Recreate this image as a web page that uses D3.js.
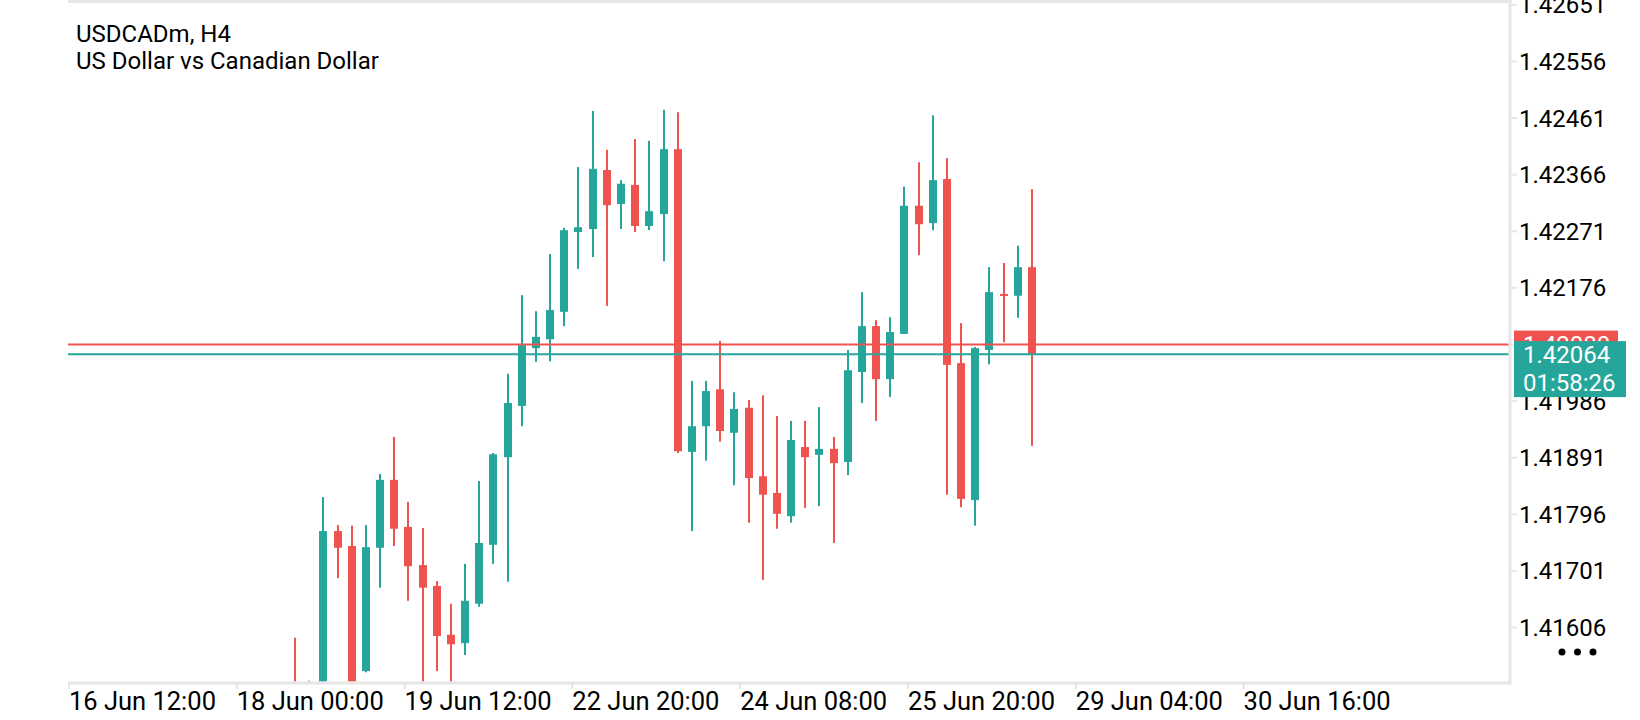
<!DOCTYPE html>
<html>
<head>
<meta charset="utf-8">
<title>USDCADm, H4</title>
<script src="https://cdn.jsdelivr.net/npm/d3@7"></script>
<style>
  body { margin: 0; background: #fff; }
  svg { display: block; font-family: Roboto, "Noto Sans", sans-serif; }
</style>
</head>
<body>
<div id="chart"></div>
<script>
// H4 candles, left to right (first few have bodies below the visible range)
var opens  = [1.41500,1.41440,1.41470,1.41767,1.41742,1.41532,1.41739,1.41853,1.41774,1.41710,
              1.41675,1.41593,1.41579,1.41645,1.41744,1.41891,1.41977,1.42074,1.42089,1.42135,
              1.42269,1.42274,1.42373,1.42316,1.42348,1.42279,1.42299,1.42408,1.41900,1.41943,
              1.42005,1.41932,1.41974,1.41859,1.41831,1.41792,1.41908,1.41895,1.41905,1.41883,
              1.42034,1.42111,1.42022,1.42098,1.42313,1.42284,1.42358,1.42049,1.41819,1.42071,
              1.42165,1.42162,1.42210];
var highs  = [1.41588,1.41516,1.41824,1.41777,1.41776,1.41777,1.41863,1.41925,1.41816,1.41772,
              1.41683,1.41645,1.41712,1.41851,1.41898,1.42031,1.42163,1.42136,1.42232,1.42276,
              1.42378,1.42472,1.42407,1.42356,1.42425,1.42422,1.42474,1.42470,1.42019,1.42019,
              1.42086,1.42000,1.41987,1.41995,1.41960,1.41952,1.41952,1.41975,1.41925,1.42071,
              1.42168,1.42121,1.42126,1.42345,1.42386,1.42465,1.42393,1.42116,1.42076,1.42210,
              1.42217,1.42246,1.42341];
var lows   = [1.41400,1.41400,1.41440,1.41688,1.41460,1.41530,1.41672,1.41742,1.41650,1.41490,
              1.41532,1.41500,1.41559,1.41640,1.41712,1.41682,1.41943,1.42051,1.42052,1.42111,
              1.42207,1.42227,1.42145,1.42274,1.42269,1.42272,1.42220,1.41898,1.41767,1.41885,
              1.41917,1.41844,1.41781,1.41685,1.41771,1.41781,1.41806,1.41809,1.41747,1.41861,
              1.41982,1.41952,1.41992,1.42098,1.42230,1.42272,1.41828,1.41807,1.41776,1.42047,
              1.42084,1.42125,1.41910];
var closes = [1.41440,1.41470,1.41767,1.41739,1.41480,1.41740,1.41853,1.41771,1.41708,1.41672,
              1.41591,1.41577,1.41650,1.41747,1.41896,1.41982,1.42079,1.42093,1.42138,1.42272,
              1.42277,1.42375,1.42314,1.42350,1.42279,1.42304,1.42408,1.41901,1.41943,1.42002,
              1.41935,1.41972,1.41856,1.41828,1.41796,1.41920,1.41891,1.41905,1.41881,1.42037,
              1.42111,1.42022,1.42101,1.42313,1.42282,1.42356,1.42046,1.41821,1.42074,1.42168,
              1.42162,1.42210,1.42064];

var priceTicks = [1.42651,1.42556,1.42461,1.42366,1.42271,1.42176,1.42081,1.41986,1.41891,1.41796,1.41701,1.41606];
var timeLabels = ["16 Jun 12:00","18 Jun 00:00","19 Jun 12:00","22 Jun 20:00","24 Jun 08:00","25 Jun 20:00","29 Jun 04:00","30 Jun 16:00"];
var timeLabelAt = [-15.95,-4.11,7.73,19.57,31.41,43.25,55.09,66.93];   // bar index under each label

var askPrice = 1.42080;
var bidPrice = 1.42064;
var countdown = "01:58:26";
var titleLines = ["USDCADm, H4", "US Dollar vs Canadian Dollar"];

var W = 1640, H = 720;
var box = {l: 68, r: 1510, t: 3, b: 683};
var up = "#26a69a", down = "#ef5350", frame = "#e6e6e6";

var svg = d3.select("#chart").append("svg")
            .attr("width", W)
            .attr("height", H);

var x = d3.scaleLinear().domain([0, 52]).range([295, 1032]);
var y = d3.scaleLinear().domain([1.41606, 1.42556]).range([627, 61]);

// frame
svg.append("rect").attr("x", box.l).attr("y", 0).attr("width", box.r - box.l + 1.5).attr("height", 3).attr("fill", frame);
svg.append("rect").attr("x", box.r - 1.5).attr("y", 0).attr("width", 3).attr("height", box.b + 1.5).attr("fill", frame);

svg.append("defs").append("clipPath").attr("id", "plotclip")
   .append("rect").attr("x", box.l).attr("y", box.t)
   .attr("width", box.r - 1.5 - box.l).attr("height", box.b - 1.5 - box.t);

var plot = svg.append("g").attr("clip-path", "url(#plotclip)");

var bars = d3.range(opens.length).map(function(i){
    return {i: i, o: opens[i], h: highs[i], l: lows[i], c: closes[i]};
});

var candle = plot.selectAll("g.candle").data(bars).enter()
    .append("g").attr("class", "candle")
    .attr("fill", function(d){ return d.c >= d.o ? up : down; });

candle.append("rect")
    .attr("x", function(d){ return Math.round(x(d.i)) - 1; })
    .attr("width", 2)
    .attr("y", function(d){ return y(d.h); })
    .attr("height", function(d){ return y(d.l) - y(d.h); });

candle.append("rect")
    .attr("x", function(d){ return Math.round(x(d.i)) - 4; })
    .attr("width", 8)
    .attr("y", function(d){ return y(Math.max(d.o, d.c)); })
    .attr("height", function(d){ return Math.max(2, Math.abs(y(d.o) - y(d.c))); });

// ask / bid lines
plot.append("line").attr("x1", box.l).attr("x2", box.r)
    .attr("y1", y(askPrice)).attr("y2", y(askPrice))
    .attr("stroke", down).attr("stroke-width", 2);
plot.append("line").attr("x1", box.l).attr("x2", box.r)
    .attr("y1", y(bidPrice)).attr("y2", y(bidPrice))
    .attr("stroke", up).attr("stroke-width", 2);

// price axis
var yAxis = d3.axisRight(y).tickValues(priceTicks).tickSize(6).tickPadding(2)
              .tickFormat(d3.format(".5f"));
var ya = svg.append("g").attr("transform", "translate(" + (box.r + 1) + ",0)").call(yAxis);
ya.select(".domain").remove();
ya.selectAll("line").attr("stroke", frame).attr("stroke-width", 2);
ya.selectAll("text").attr("font-size", 24).attr("fill", "#000")
  .attr("font-family", "Roboto").attr("dy", "0.35em");

// time axis
svg.append("rect").attr("x", box.l).attr("y", box.b - 1.5).attr("width", box.r - box.l).attr("height", 3).attr("fill", frame);
var xt = svg.append("g").selectAll("g").data(timeLabels).enter().append("g")
    .attr("transform", function(d, k){ return "translate(" + x(timeLabelAt[k]) + "," + box.b + ")"; });
xt.append("line").attr("y1", 0).attr("y2", 6).attr("stroke", frame).attr("stroke-width", 2);
xt.append("text").attr("x", 0).attr("y", 27).attr("font-size", 25.5).attr("fill", "#000")
  .text(function(d){ return d; });

// price labels on the axis
var ask = svg.append("g").attr("transform", "translate(1514," + y(askPrice) + ")");
ask.append("rect").attr("x", 0).attr("y", -14).attr("width", 104).attr("height", 28).attr("fill", down);
ask.append("text").attr("x", 9).attr("y", 0).attr("dy", "0.35em").attr("font-size", 24).attr("fill", "#fff")
   .text(d3.format(".5f")(askPrice));

var bid = svg.append("g").attr("transform", "translate(1514," + y(bidPrice) + ")");
bid.append("rect").attr("x", 0).attr("y", -13).attr("width", 112).attr("height", 56).attr("fill", up);
bid.append("text").attr("x", 9).attr("y", 0).attr("dy", "0.35em").attr("font-size", 24).attr("fill", "#fff")
   .text(d3.format(".5f")(bidPrice));
bid.append("text").attr("x", 9).attr("y", 28).attr("dy", "0.35em").attr("font-size", 24).attr("fill", "#fff")
   .text(countdown);

// menu dots
svg.append("g").selectAll("circle").data([0, 1, 2]).enter().append("circle")
   .attr("cx", function(d){ return 1562 + d * 15.5; }).attr("cy", 652).attr("r", 3.5).attr("fill", "#000");

// title
svg.append("g").selectAll("text").data(titleLines).enter().append("text")
   .attr("x", 76).attr("y", function(d, k){ return 42 + k * 27; })
   .attr("font-size", 24).attr("fill", "#000")
   .text(function(d){ return d; });
</script>
</body>
</html>
